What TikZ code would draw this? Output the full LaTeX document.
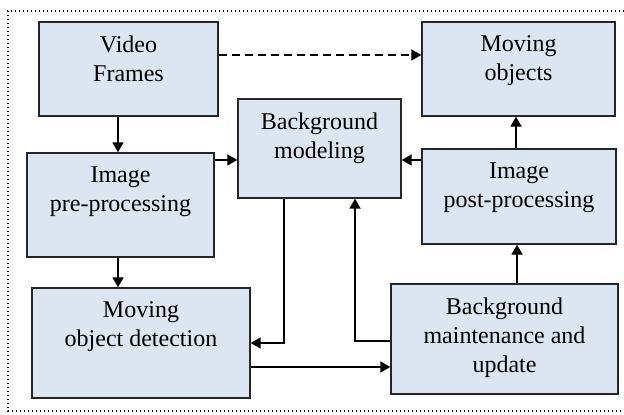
\documentclass[tikz,border=0pt]{standalone}
\usepackage{fontspec}
\setmainfont{Liberation Serif}
\usetikzlibrary{arrows.meta,positioning,calc}
\definecolor{boxfill}{HTML}{DCE6F2}
\newcommand{\blktxt}[3]{\parbox[c][#2][t]{#1}{\centering\vspace*{7pt}#3}}

\begin{document}
\begin{tikzpicture}[x=0.5pt,y=-0.5pt,>={Triangle[length=5pt,width=5.5pt]},
   font=\fontsize{12}{14.5}\selectfont,
   blk/.style={draw=black!85,fill=boxfill,line width=0.7pt,inner sep=0pt},
   arr/.style={->,line width=0.9pt}]
  \useasboundingbox (0,0) rectangle (624,415);
  \draw[line width=0.7pt,dash pattern=on 0.7pt off 1.3pt] (624,11) -- (8,11) -- (8,411) -- (624,411);
  \node[blk] (vf) at (128.5,69) {\blktxt{89.5pt}{47pt}{Video\\Frames}};
  \node[blk] (pre) at (120.5,205) {\blktxt{93.5pt}{52pt}{Image\\pre-processing}};
  \node[blk] (bm) at (319.5,148.5) {\blktxt{81.5pt}{49.5pt}{Background\\modeling}};
  \node[blk] (mo) at (518.5,69) {\blktxt{96.5pt}{47pt}{Moving\\objects}};
  \node[blk] (post) at (519,196.5) {\blktxt{97pt}{47.5pt}{Image\\post-processing}};
  \node[blk] (mod) at (141,343) {\blktxt{109pt}{55pt}{Moving\\object detection}};
  \node[blk] (bmu) at (504.5,339) {\blktxt{113.5pt}{55pt}{Background\\maintenance and\\update}};
  \draw[arr,dash pattern=on 4pt off 2.5pt] (vf.east |- 0,55) -- (mo.west |- 0,55);
  \draw[arr] (vf.south -| 118,0) -- (pre.north -| 118,0);
  \draw[arr] (pre.south -| 118,0) -- (mod.north -| 118,0);
  \draw[arr] (pre.east |- 0,160) -- (bm.west |- 0,160);
  \draw[arr] (post.west |- 0,160) -- (bm.east |- 0,160);
  \draw[arr] (post.north -| 516,0) -- (mo.south -| 516,0);
  \draw[arr] (bmu.north -| 517,0) -- (post.south -| 517,0);
  \draw[arr] (bm.south -| 284,0) |- (mod.east);
  \draw[arr] (mod.east |- 0,367) -- (bmu.west |- 0,367);
  \draw[arr] (bmu.west |- 0,341) -| (bm.south -| 355,0);
\end{tikzpicture}
\end{document}
